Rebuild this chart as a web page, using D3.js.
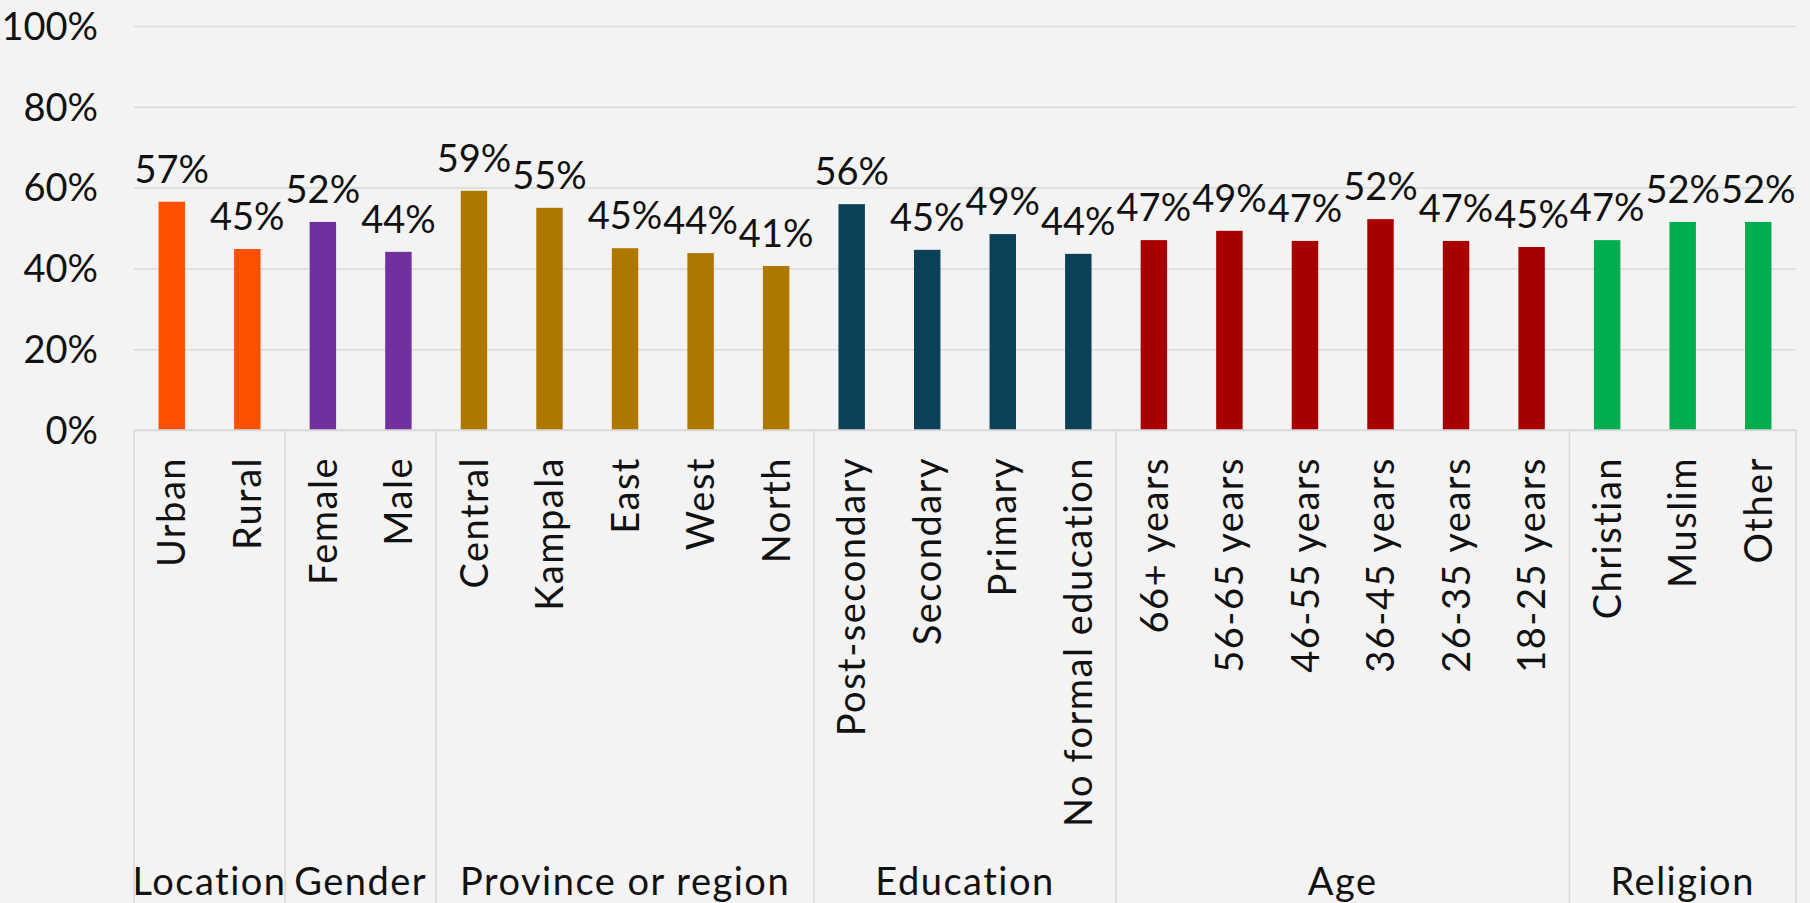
<!DOCTYPE html>
<html>
<head>
<meta charset="utf-8">
<script src="https://cdn.jsdelivr.net/npm/d3@7"></script>
<style>
  html, body { margin: 0; padding: 0; background: #f3f3f3; overflow: hidden; }
  svg text { font-family: "Century Gothic", Lato, sans-serif; fill: #111; }
</style>
</head>
<body>
<div id="chart"></div>
<script>
// categories, in chart order
var categories = ["Urban", "Rural", "Female", "Male", "Central", "Kampala", "East", "West", "North",
  "Post-secondary", "Secondary", "Primary", "No formal education",
  "66+ years", "56-65 years", "46-55 years", "36-45 years", "26-35 years", "18-25 years",
  "Christian", "Muslim", "Other"];

// group each category belongs to
var categoryGroup = ["Location", "Location", "Gender", "Gender",
  "Province or region", "Province or region", "Province or region", "Province or region", "Province or region",
  "Education", "Education", "Education", "Education",
  "Age", "Age", "Age", "Age", "Age", "Age",
  "Religion", "Religion", "Religion"];

var groups = ["Location", "Gender", "Province or region", "Education", "Age", "Religion"];
var groupColors = ["#ff5000", "#7030a0", "#ae7800", "#0b4157", "#a80000", "#00ae50"];

// percent values
var values = [56.5, 44.8, 51.5, 44.1, 59.2, 55.0, 45.0, 43.8, 40.6,
  55.9, 44.6, 48.5, 43.6,
  47.0, 49.3, 46.8, 52.2, 46.8, 45.3,
  47.0, 51.5, 51.5];

var yTicks = [0, 20, 40, 60, 80, 100];

var W = 1810, H = 903;
var plotLeft = 134, plotRight = 1796, plotTop = 26, plotBottom = 430;
var fontSize = "38px", spacing = "1.5px";

var data = categories.map(function(c, i) {
  return { name: c, group: categoryGroup[i], value: values[i] };
});

var svg = d3.select("#chart").append("svg")
  .attr("width", W)
  .attr("height", H);

svg.append("rect")
  .attr("width", W)
  .attr("height", H)
  .attr("fill", "#f3f3f3");

var x = d3.scaleBand()
  .domain(categories)
  .range([plotLeft, plotRight])
  .paddingInner(0.65)
  .paddingOuter(0.325);

var y = d3.scaleLinear()
  .domain([0, 100])
  .range([plotBottom, plotTop]);

var color = d3.scaleOrdinal().domain(groups).range(groupColors);

// gridlines + y labels
var yAxis = d3.axisLeft(y)
  .tickValues(yTicks)
  .tickSize(-(plotRight - plotLeft))
  .tickPadding(36)
  .tickFormat(function(d) { return d + "%"; });

var ga = svg.append("g")
  .attr("transform", "translate(" + plotLeft + ",0)")
  .call(yAxis);
ga.select(".domain").remove();
ga.selectAll(".tick line")
  .attr("stroke", "#d9d9d9")
  .attr("stroke-width", 1.5);
ga.selectAll(".tick text")
  .style("font-size", fontSize)
  .attr("dy", "0.35em");

// bars
svg.append("g").selectAll("rect")
  .data(data)
  .enter().append("rect")
  .attr("x", function(d) { return x(d.name); })
  .attr("width", x.bandwidth())
  .attr("y", function(d) { return y(d.value); })
  .attr("height", function(d) { return plotBottom - y(d.value); })
  .attr("fill", function(d) { return color(d.group); });

// value labels
svg.append("g").selectAll("text")
  .data(data)
  .enter().append("text")
  .attr("x", function(d) { return x(d.name) + x.bandwidth() / 2; })
  .attr("y", function(d) { return y(d.value) - 19; })
  .attr("text-anchor", "middle")
  .style("font-size", fontSize)
  .text(function(d) { return Math.round(d.value) + "%"; });

// category labels, rotated
svg.append("g").selectAll("text")
  .data(data)
  .enter().append("text")
  .attr("transform", function(d) {
    return "translate(" + (x(d.name) + x.bandwidth() / 2) + ",457) rotate(-90)";
  })
  .attr("text-anchor", "end")
  .attr("dy", "0.36em")
  .style("font-size", fontSize)
  .style("letter-spacing", spacing)
  .text(function(d) { return d.name; });

// group separators and group labels
var groupInfo = groups.map(function(g) {
  var members = data.filter(function(d) { return d.group === g; });
  var x0 = x(members[0].name) - x.step() * x.paddingInner() / 2;
  var x1 = x(members[members.length - 1].name) + x.bandwidth() + x.step() * x.paddingInner() / 2;
  return { name: g, x0: x0, x1: x1 };
});

var bounds = [plotLeft].concat(groupInfo.map(function(g) { return g.x1; }));
bounds[bounds.length - 1] = plotRight;

svg.append("g").selectAll("line")
  .data(bounds)
  .enter().append("line")
  .attr("x1", function(d) { return d; })
  .attr("x2", function(d) { return d; })
  .attr("y1", plotBottom)
  .attr("y2", H)
  .attr("stroke", "#d9d9d9")
  .attr("stroke-width", 1.5);

svg.append("line")
  .attr("x1", plotLeft).attr("x2", plotRight)
  .attr("y1", plotBottom).attr("y2", plotBottom)
  .attr("stroke", "#d9d9d9")
  .attr("stroke-width", 1.5);

svg.append("g").selectAll("text")
  .data(groupInfo)
  .enter().append("text")
  .attr("x", function(d) { return (d.x0 + d.x1) / 2; })
  .attr("y", 895)
  .attr("text-anchor", "middle")
  .style("font-size", fontSize)
  .style("letter-spacing", spacing)
  .text(function(d) { return d.name; });
</script>
</body>
</html>
